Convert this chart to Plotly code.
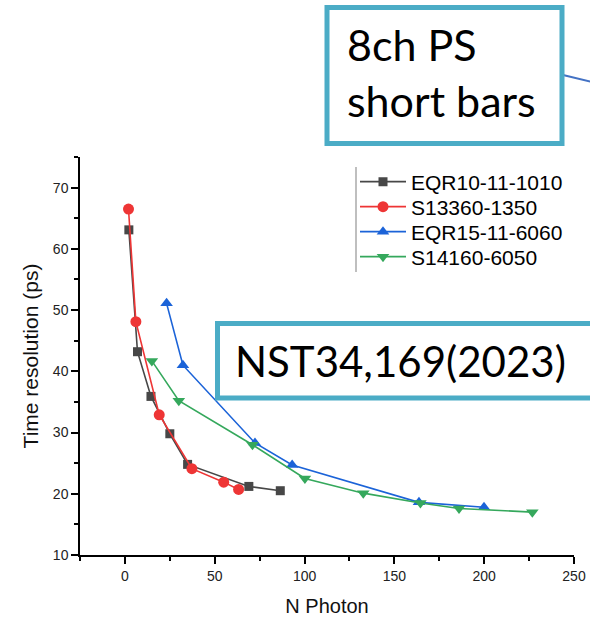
import plotly.graph_objects as go

# ---- data ----
series_names = ["EQR10-11-1010", "S13360-1350", "EQR15-11-6060", "S14160-6050"]

eqr1010_x = [2.2, 7.0, 14.5, 25.0, 34.9, 69.0, 86.5]
eqr1010_y = [63.1, 43.2, 35.9, 29.8, 24.8, 21.2, 20.5]

s13360_x = [2.0, 6.1, 19.1, 37.3, 55.0, 63.3]
s13360_y = [66.5, 48.1, 32.9, 24.1, 21.9, 20.7]

eqr6060_x = [23.2, 32.3, 72.4, 93.1, 163.7, 199.9]
eqr6060_y = [51.1, 41.0, 28.3, 24.7, 18.6, 17.8]

s14160_x = [15.0, 30.0, 71.0, 100.2, 132.7, 164.5, 186.0, 226.8]
s14160_y = [41.7, 35.2, 28.0, 22.5, 20.1, 18.5, 17.6, 17.0]

x_ticks = [0, 50, 100, 150, 200, 250]
y_ticks = [10, 20, 30, 40, 50, 60, 70]

x_title = "N Photon"
y_title = "Time resolution (ps)"
box1_text = "8ch PS<br>short bars"
box2_text = "NST34,169(2023)"

# ---- styling ----
W, H = 590, 620
L, R, T, B = 80, 16, 157, 65
PW, PH = W - L - R, H - T - B


def pxx(p):
    return (p - L) / PW


def pxy(p):
    return (H - B - p) / PH


colors = ["#474747", "#ee3535", "#1b63d8", "#35a85c"]
symbols = ["square", "circle", "triangle-up", "triangle-down"]
sizes = [9, 11, 11, 11]
legend_ids = ["legend", "legend2", "legend3", "legend4"]
legend_rows_px = [182, 207, 232, 257]

fig = go.Figure()
for name, xs, ys, c, s, sz, lid in zip(
    series_names,
    [eqr1010_x, s13360_x, eqr6060_x, s14160_x],
    [eqr1010_y, s13360_y, eqr6060_y, s14160_y],
    colors, symbols, sizes, legend_ids,
):
    fig.add_trace(go.Scatter(
        x=xs, y=ys, name=name, mode="lines+markers",
        line=dict(color=c, width=1.6),
        marker=dict(symbol=s, size=sz, color=c),
        legend=lid,
    ))

teal = "#4bacc6"
shapes = [
    dict(type="line", xref="paper", yref="paper",
         x0=pxx(356), x1=pxx(356), y0=pxy(167), y1=pxy(272),
         line=dict(color="#aaaaaa", width=1.5), layer="above"),
    dict(type="line", xref="paper", yref="paper",
         x0=pxx(563), x1=pxx(592), y0=pxy(75), y1=pxy(82),
         line=dict(color="#4472c4", width=2), layer="above"),
    dict(type="rect", xref="paper", yref="paper",
         x0=pxx(327), x1=pxx(562), y0=pxy(143.5), y1=pxy(7.5),
         line=dict(color=teal, width=5), fillcolor="white", layer="above"),
    dict(type="rect", xref="paper", yref="paper",
         x0=pxx(217.5), x1=pxx(605), y0=pxy(398), y1=pxy(323.5),
         line=dict(color=teal, width=5), fillcolor="white", layer="above"),
]

annotations = [
    dict(text=box1_text, xref="paper", yref="paper", x=pxx(345), y=pxy(73),
         xanchor="left", yanchor="middle", align="left", showarrow=False,
         font=dict(family="Lato", size=43, color="black")),
    dict(text=box2_text, xref="paper", yref="paper", x=pxx(233), y=pxy(361),
         xanchor="left", yanchor="middle", align="left", showarrow=False,
         font=dict(family="Lato", size=42, color="black")),
]

axis_common = dict(
    showline=True, linecolor="black", linewidth=1.5,
    ticks="outside", ticklen=7, tickwidth=1.5, tickcolor="black",
    showgrid=False, zeroline=False, mirror=False, automargin=False,
    tickfont=dict(family="Liberation Sans", size=14, color="#222"),
)

legend_layout = {}
for lid, ypx in zip(legend_ids, legend_rows_px):
    legend_layout[lid] = dict(
        x=pxx(355), y=pxy(ypx), xanchor="left", yanchor="middle",
        bgcolor="rgba(0,0,0,0)", borderwidth=0,
        font=dict(family="Liberation Sans", size=21, color="black"),
        itemwidth=46, tracegroupgap=0,
    )

fig.update_layout(
    width=W, height=H,
    margin=dict(l=L, r=R, t=T, b=B, pad=0, autoexpand=False),
    paper_bgcolor="white", plot_bgcolor="white",
    showlegend=True,
    xaxis=dict(
        range=[-25, 250], tickvals=x_ticks,
        minor=dict(ticks="outside", ticklen=4, tickwidth=1.5, tickcolor="black", dtick=25, tick0=0),
        title=dict(text=x_title, font=dict(family="Liberation Sans", size=20, color="#111"), standoff=16),
        **axis_common,
    ),
    yaxis=dict(
        range=[10, 75], tickvals=y_ticks,
        minor=dict(ticks="outside", ticklen=4, tickwidth=1.5, tickcolor="black", dtick=5, tick0=0),
        title=dict(text=y_title, font=dict(family="Liberation Sans", size=21, color="#111"), standoff=9),
        **axis_common,
    ),
    shapes=shapes,
    annotations=annotations,
    **legend_layout,
)

fig.write_html("out.html", config={"displayModeBar": False},
               post_script="document.body.style.margin='0';")
